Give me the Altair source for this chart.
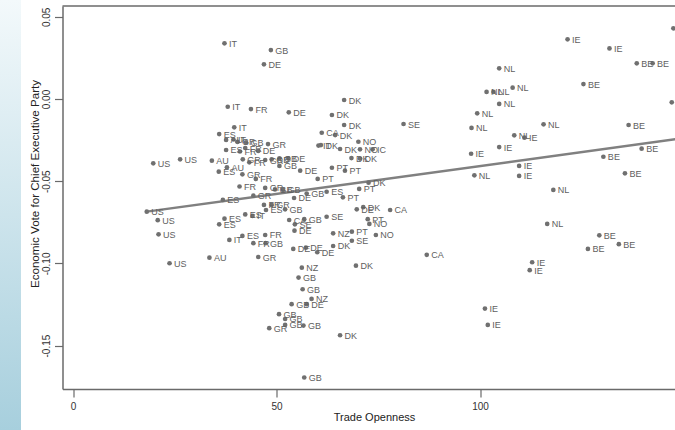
import altair as alt
import pandas as pd

# ---- data ----
country = [
    "IT", "GB", "DE", "IT", "FR", "DE", "DK", "DK", "DK", "SE",
    "CA", "DK", "IT", "DK", "DK", "NO", "NO", "IC", "DK", "DK",
    "PT", "PT", "PT", "DK", "PT", "ES", "PT", "DK", "DE", "CA",
    "PT", "NO", "SE", "NZ", "PT", "NO", "SE", "DK", "DK", "CA",
    "DK", "IE", "IE", "BE", "BE", "NL", "BE", "NL", "NL", "NL",
    "NL", "NL", "NL", "NL", "BE", "NL", "IE", "IE", "BE", "IE",
    "BE", "IE", "NL", "IE", "BE", "NL", "BE", "BE", "NL", "BE",
    "BE", "BE", "IE", "IE", "IE", "IE", "US", "US", "US", "US",
    "AU", "ES", "ES", "ES", "IT", "ES", "ES", "IT", "FR", "FR",
    "GB", "GR", "GR", "FR", "GR", "GB", "GB", "GB", "DE", "FR",
    "GR", "ES", "GB", "CA", "GB", "SE", "DE", "DE", "DE", "DE",
    "NZ", "GB", "GB", "NZ", "GB", "DE", "GB", "GB", "GB", "GB",
    "GR", "GB", "IT", "ES", "AU", "IT", "GR", "GB", "GR", "ES",
    "FR", "FR", "DE", "US", "US", "AU", "AU", "ES", "GR", "FR",
    "GR", "GB", "GB", "DE", "GB", "DE", "GR", "FR",
]
openness = [
    37.2, 48.6, 46.9, 38.0, 43.7, 53.0, 66.6, 63.6, 66.6, 81.2,
    61.1, 64.4, 60.3, 60.9, 65.6, 70.1, 70.5, 73.6, 68.4, 70.5,
    63.6, 66.8, 60.1, 72.6, 70.3, 62.3, 66.3, 71.3, 69.7, 77.9,
    72.4, 72.8, 62.3, 63.9, 68.5, 74.4, 68.5, 63.9, 69.5, 86.9,
    65.6, 121.5, 131.8, 138.5, 142.4, 104.7, 125.4, 101.6, 103.3, 108.0,
    104.7, 99.3, 97.9, 115.6, 136.5, 108.4, 110.9, 104.7, 139.7, 97.8,
    130.3, 109.6, 98.6, 109.6, 135.6, 118.0, 147.5, 147.1, 116.5, 129.3,
    134.1, 126.5, 112.8, 112.2, 101.2, 101.9, 18.1, 20.8, 21.0, 23.7,
    33.5, 36.8, 37.2, 35.9, 38.4, 41.6, 42.3, 44.1, 47.2, 44.3,
    47.3, 45.5, 44.3, 40.9, 47.2, 49.6, 51.6, 57.4, 54.3, 46.9,
    48.8, 47.4, 52.1, 53.1, 56.8, 54.5, 54.4, 54.1, 57.2, 60.0,
    56.2, 55.4, 56.4, 58.6, 53.7, 57.4, 50.6, 52.1, 52.1, 56.6,
    48.2, 56.8, 39.6, 35.9, 37.6, 39.4, 40.4, 42.5, 47.9, 37.6,
    41.0, 42.3, 45.5, 19.7, 26.3, 34.1, 37.8, 35.8, 41.7, 43.3,
    47.2, 48.8, 50.7, 52.9, 50.7, 55.8, 41.6, 44.9,
]
vote = [
    0.0339, 0.0298, 0.0211, -0.0047, -0.0061, -0.0081, -0.0006, -0.0097, -0.0158, -0.0152,
    -0.0205, -0.0219, -0.0283, -0.0280, -0.0304, -0.0260, -0.0306, -0.0306, -0.0359, -0.0362,
    -0.0418, -0.0436, -0.0486, -0.0509, -0.0547, -0.0564, -0.0598, -0.0658, -0.0671, -0.0675,
    -0.0731, -0.0760, -0.0716, -0.0817, -0.0807, -0.0827, -0.0862, -0.0894, -0.1014, -0.0948,
    -0.1437, 0.0363, 0.0308, 0.0217, 0.0217, 0.0187, 0.0091, 0.0043, 0.0043, 0.0069,
    -0.0030, -0.0087, -0.0176, -0.0154, -0.0158, -0.0221, -0.0235, -0.0292, -0.0302, -0.0333,
    -0.0351, -0.0407, -0.0464, -0.0468, -0.0452, -0.0553, 0.0430, -0.0020, -0.0760, -0.0829,
    -0.0883, -0.0912, -0.0993, -0.1041, -0.1275, -0.1374, -0.0685, -0.0737, -0.0823, -0.0999,
    -0.0965, -0.0614, -0.0728, -0.0762, -0.0857, -0.0833, -0.0702, -0.0711, -0.0827, -0.0877,
    -0.0877, -0.0961, -0.0588, -0.0532, -0.0541, -0.0550, -0.0553, -0.0575, -0.0602, -0.0644,
    -0.0644, -0.0675, -0.0671, -0.0736, -0.0731, -0.0762, -0.0801, -0.0912, -0.0904, -0.0932,
    -0.1026, -0.1086, -0.1157, -0.1216, -0.1248, -0.1248, -0.1309, -0.1338, -0.1374, -0.1378,
    -0.1394, -0.1694, -0.0172, -0.0213, -0.0249, -0.0246, -0.0261, -0.0264, -0.0274, -0.0310,
    -0.0319, -0.0298, -0.0316, -0.0391, -0.0367, -0.0375, -0.0415, -0.0442, -0.0367, -0.0385,
    -0.0371, -0.0367, -0.0361, -0.0361, -0.0407, -0.0436, -0.0458, -0.0486,
]
# fitted line end points
fit_openness = [18.1, 150.0]
fit_vote = [-0.0685, -0.0238]

x_ticks = [0, 50, 100]
y_ticks = [-0.15, -0.10, -0.05, 0.00, 0.05]

df = pd.DataFrame({"country": country, "openness": openness, "vote": vote})
fit = pd.DataFrame({"openness": fit_openness, "vote": fit_vote})
one = pd.DataFrame({"k": [0]})

W = 612.5
H = 383
FONT = "Liberation Sans"
AX = "#6a6a6a"

xscale = alt.Scale(domain=[-2.6, 147.9], nice=False, zero=False)
yscale = alt.Scale(domain=[-0.1764, 0.0566], nice=False, zero=False)

x_axis = alt.Axis(
    values=x_ticks, title="Trade Openness", grid=False,
    domainColor=AX, domainWidth=1.5, tickColor=AX, tickWidth=1.2, tickSize=8,
    labelFont=FONT, labelFontSize=10, labelColor="#333333", labelPadding=4,
    titleFont=FONT, titleFontSize=11, titleFontWeight="normal", titleColor="#222222",
    titleX=311.5, titleY=28, titleBaseline="middle", titleAlign="center",
)
y_axis = alt.Axis(
    values=y_ticks, title="Economic Vote for Chief Executive Party", grid=False,
    labelExpr="replace(format(datum.value, '.2f'), '\u2212', '-')",
    domainColor=AX, domainWidth=1.5, tickColor=AX, tickWidth=1.2, tickSize=8,
    labelFont=FONT, labelFontSize=10, labelColor="#333333", labelPadding=3,
    labelAngle=-90, labelAlign="center", labelBaseline="bottom",
    titleFont=FONT, titleFontSize=11.6, titleFontWeight="normal", titleColor="#222222",
    titleAngle=270, titleX=-27.5, titleY=177.5, titleBaseline="middle", titleAlign="center",
)

x_enc = alt.X("openness:Q", scale=xscale, axis=x_axis)
y_enc = alt.Y("vote:Q", scale=yscale, axis=y_axis)

strip = alt.Chart(one).mark_rect(
    clip=False,
    color=alt.LinearGradient(
        gradient="linear",
        stops=[alt.GradientStop(color="#f3f9fb", offset=0),
               alt.GradientStop(color="#a7cfdd", offset=1)],
        x1=0, x2=0, y1=0, y2=1,
    ),
).encode(x=alt.value(-62.5), x2=alt.value(-41.5), y=alt.value(-6), y2=alt.value(424))

frame_top = alt.Chart(one).mark_rule(color=AX, strokeWidth=1.5).encode(
    x=alt.value(0), x2=alt.value(W), y=alt.value(0)
)

line = alt.Chart(fit).mark_line(color="#808080", strokeWidth=2.5, clip=True).encode(
    x=x_enc, y=y_enc
)

points = alt.Chart(df).mark_circle(size=22, color="#707070", opacity=1, clip=True).encode(
    x=x_enc, y=y_enc
)

labels = alt.Chart(df).mark_text(
    align="left", baseline="middle", dx=4.5, dy=0.5, fontSize=9, font=FONT,
    color="#606060", clip=True,
).encode(x=x_enc, y=y_enc, text="country:N")

chart = alt.layer(strip, frame_top, line, points, labels).properties(
    width=W, height=H,
    autosize=alt.AutoSizeParams(type="none"),
    padding={"left": 62.5, "top": 6, "right": 0, "bottom": 41},
    background="white",
).configure_view(strokeWidth=0)

chart.save("out.html", embed_options={"renderer": "svg", "actions": False})
